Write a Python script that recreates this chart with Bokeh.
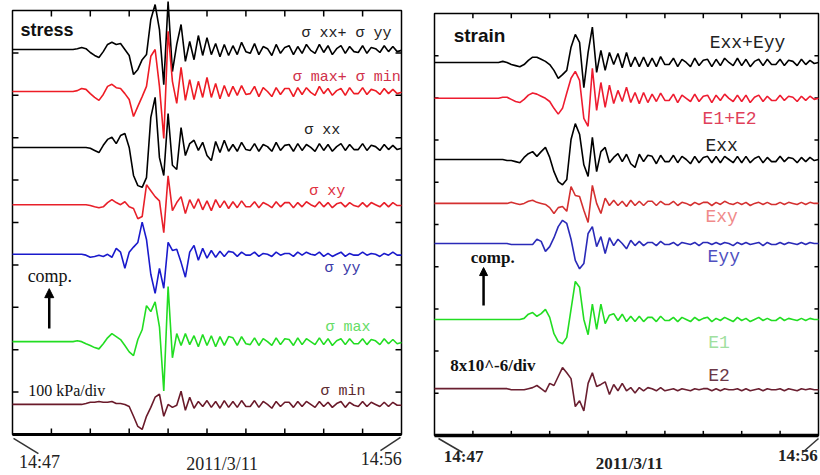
import numpy as np
from bokeh.plotting import figure
from bokeh.layouts import row
from bokeh.models import Label, Arrow, NormalHead, Range1d
from bokeh.embed import file_html
from bokeh.resources import INLINE

# ---------------- data ----------------
# sample times, seconds after 14:47:00 (6 s sampling), 14:47 .. 14:56
t_s = np.arange(0, 541, 6)
tick_s = [54, 108, 162, 216, 270, 324, 378, 432, 486]
tick_div = [1, 2, 3, 4, 5, 6, 7, 8, 9]

stress_kpa_per_div = 100.0
strain_per_div = 8.0  # x10^-6

# stress traces, kPa
sxx_plus_syy = [0,0,0,0,0,0,0,0,0,0,0,0,0,0,0,
    2,5,2,-7,-14,-19,-5,12,17,12, 14,0,-14,-59,-47,-24,-12,71,106,47,
    -83,113,-52,12,59,-28,19,-24,33,-14, 28,-12,14,-17,12,-14,
    9,-12,17,-5,-9,14,-12,7,2,-14, 12,-9,5,9,-12,7,-9,12,-2,-9,
    12,-7,9,-12,2,9,-9,7,-5,-7, 9,-9,5,2,-7,9,-5,7,-5,-2]
smax_plus_smin = [0,0,0,0,0,0,0,0,0,0,0,0,0,0,0,
    2,7,5,-5,-14,-21,-7,12,17,9, 7,-5,-19,-59,-35,-12,12,83,99,12,
    -111,142,24,-28,57,-21,28,-19,24,-14, 33,-14,19,-17,14,-12,
    12,-9,14,-7,-5,12,-12,9,0,-12, 9,-7,7,7,-12,9,-7,9,-2,-9,
    12,-5,7,-9,2,7,-9,9,-5,-5, 9,-7,5,2,-7,7,-5,5,-5,-2]
sxx = [0,0,0,0,0,0,0,0,0,0,0,0,0,0,0,
    0,0,0,-2,-7,-12,5,19,24,9, 28,33,0,-66,-90,-94,-71,71,118,-24,
    -66,80,-42,-52,47,-19,9,17,-7,12, -19,-31,14,-12,17,-9,
    7,-9,12,-5,-7,9,-9,7,2,-9, 12,-7,5,7,-9,9,-7,7,0,-9,
    9,-7,7,-9,2,9,-7,7,-5,-5, 9,-7,5,2,-7,7,-5,5,-5,-2]
sxy = [0,0,0,0,0,0,0,0,0,0,0,0,0,0,0,
    0,0,0,-2,-5, -7,-5,5,12,5, 0,7,-5,-9,-33,-28,47,33,19,9,
    -66,68,-14,5,19,-21,12,-9,14,-12, 9,-14,12,-7,9,-9,
    7,-7,9,-5,-5,7,-7,5,0,-7, 7,-5,5,5,-7,5,-5,7,0,-5,
    7,-5,5,-7,2,5,-5,5,-2,-5, 5,-5,5,0,-5,5,-5,5,-2,-2]
syy = [0,0,0,0,0,0,0,0,0,0,0,0,0,0,0,
    0,0,-2,-7,-5, -2,-5,0,-7,14, 5,-33,5,17,28,76,35,-47,-92,-33,
    -80,28,9,12,-19,-54,5,21,-14,14, -9,9,-7,7,-5,7,
    5,-5,5,-2,-2,5,-5,2,0,-5, 5,-2,2,2,-5,5,-2,5,0,-2,
    5,-5,2,-5,0,5,-5,2,-2,-2, 5,-2,2,0,-5,2,-2,5,-2,-2]
smax = [0,0,0,0,0,0,0,0,0,0,0,0,0,0,0,
    2,0,-5,-9,-14, -17,-5,9,19,12, 5,-9,-24,-33,5,28,85,71,94,35,
    -116,130,-38,19,-9,19,-7,14,-12,17, -9,14,-12,12,-9,12,
    9,-9,12,-5,-7,9,-9,7,0,-9, 9,-7,7,5,-9,9,-7,7,0,-7,
    9,-7,7,-9,2,7,-7,7,-5,-5, 7,-7,5,2,-7,7,-5,5,-5,-2]
smin = [0,0,0,0,0,0,0,0,0,0,0,0,0,0,0,
    0,0,2,5,5, 7,5,5,7,2, 2,0,-5,-28,-52,-59,-28,-7,17,24,
    -28,0,-7,-2,31,-14,17,-9,7,-5, 9,-7,7,-9,9,-7,
    7,-7,9,-5,-5,9,-7,7,0,-9, 7,-5,5,5,-7,7,-5,7,0,-7,
    7,-5,5,-7,2,7,-7,5,-2,-5, 7,-5,5,0,-5,5,-5,5,-2,-2]

# strain traces, x10^-6
exx_plus_eyy = [0,0,0,0,0,0,0,0,0,0,0,0,0,0,0,0,
    0.2,0,-0.4,-0.6,-0.8,-0.4,0.4,1.0,1.0,0.6, 0.2,-0.4,-1.5,-3.0,-2.3,-1.5,2.9,5.3,3.8,-4.8,
    1.9,6.7,-1.9,2.3,-1.5,1.9,-0.4,1.7,-1.0,1.9, -0.8,1.0,-0.8,1.0,-0.8,
    0.8,-0.8,1.1,-0.4,-0.4,0.8,-0.8,0.6,0,-0.8, 0.8,-0.6,0.4,0.6,-0.8,0.6,-0.6,0.8,0,-0.6,
    0.8,-0.6,0.6,-0.8,0.2,0.6,-0.6,0.6,-0.4,-0.4, 0.6,-0.6,0.4,0.2,-0.6,0.6,-0.4,0.4,-0.2,0]
e1_plus_e2 = [0,0,0,0,0,0,0,0,0,0,0,0,0,0,0,0,
    0.2,0.2,-0.2,-0.6,-0.8,-0.2,0.6,1.0,0.8,0.4, 0,-0.6,-1.9,-3.0,-1.9,1.0,3.8,5.1,3.4,-3.8,
    -5.3,5.7,-2.3,3.0,-1.7,2.5,-1.0,1.5,-0.6,2.1, -0.8,1.1,-1.0,1.1,-0.8,
    0.8,-0.6,1.0,-0.4,-0.4,0.8,-0.8,0.6,0,-0.6, 0.8,-0.6,0.4,0.6,-0.8,0.6,-0.4,0.8,0,-0.6,
    0.6,-0.6,0.6,-0.8,0.2,0.6,-0.6,0.4,-0.4,-0.4, 0.6,-0.4,0.4,0.2,-0.6,0.4,-0.4,0.4,-0.2,0]
exx = [0,0,0,0,0,0,0,0,0,0,0,0,0,0,0,0,
    0,-0.2,-0.2,-0.4,-0.6,0.4,1.1,1.5,0.6,1.5, 2.3,0.4,-2.3,-4.2,-4.8,-3.8,3.8,6.8,4.8,-1.0,
    -3.2,4.2,-2.3,1.5,2.3,-0.6,0.4,1.1,-0.4,1.0, -0.8,-1.5,1.0,-0.4,0.8,
    0.6,-0.8,0.8,-0.4,-0.4,0.8,-0.6,0.6,0,-0.8, 0.6,-0.6,0.4,0.6,-0.6,0.6,-0.6,0.6,0,-0.6,
    0.6,-0.6,0.6,-0.6,0.2,0.6,-0.6,0.4,-0.4,-0.4, 0.6,-0.4,0.4,0.2,-0.6,0.4,-0.4,0.4,-0.2,0]
exy = [0,0,0,0,0,0,0,0,0,0,0,0,0,0,0,0,
    0,0,0.2,0,-0.2, 0,0.4,0.6,0.2,0, -0.2,-0.8,-1.9,-0.8,-0.6,-1.5,3.2,1.5,1.3,-1.3,
    -3.6,3.4,0,-1.9,1.0,-0.4,0.6,-0.4,0.4,-0.6, 0.6,-0.4,0.4,-0.4,0.4,
    0.4,-0.4,0.4,-0.2,-0.2,0.4,-0.4,0.2,0,-0.4, 0.2,-0.2,0.2,0.2,-0.4,0.2,-0.2,0.4,0,-0.2,
    0.2,-0.2,0.2,-0.4,0,0.2,-0.2,0.2,-0.2,-0.2, 0.2,-0.2,0.2,0,-0.2,0.2,-0.2,0.2,0,0]
eyy = [0,0,0,0,0,0,0,0,0,0,0,0,0,0,0,0,
    0,0,-0.2,-0.2,-0.2,-0.2,-0.2,-0.2,0.8,0.4, -1.5,-0.6,1.1,3.2,4.4,3.8,0.8,-3.2,-4.8,-3.8,
    1.9,3.2,-0.6,1.3,-1.9,1.1,-0.4,0.8,0,-1.0, 0.6,-0.4,0.4,-0.4,0.2,
    0.2,-0.4,0.4,-0.2,-0.2,0.2,-0.4,0.2,0,-0.2, 0.2,-0.4,0.2,0.2,-0.2,0.2,-0.2,0.2,0,-0.4,
    0.2,-0.2,0.2,-0.2,0,0.2,-0.4,0.2,-0.2,-0.2, 0.2,-0.2,0.2,0,-0.2,0.2,-0.2,0.2,0,0]
e1 = [0,0,0,0,0,0,0,0,0,0,0,0,0,0,0,0,
    0,0,0,0,0, 0.2,1.0,1.3,0.6,1.1, 1.9,0.4,-2.7,-4.2,-4.6,-3.4,1.9,7.2,6.1,0,
    -2.9,2.9,-1.9,2.9,-0.8,0.8,1.1,-0.2,1.0,-0.4, 0.6,-0.4,0.6,-0.4,0.4,
    0.4,-0.4,0.6,-0.2,-0.2,0.4,-0.4,0.4,0,-0.4, 0.4,-0.2,0.2,0.4,-0.4,0.2,-0.2,0.4,0,-0.4,
    0.4,-0.2,0.2,-0.4,0,0.4,-0.2,0.2,-0.2,-0.2, 0.4,-0.2,0.2,0,-0.2,0.2,-0.2,0.2,0,0]
e2 = [0,0,0,0,0,0,0,0,0,0,0,0,0,0,0,0,
    0,0,-0.2,-0.2,-0.2, -0.2,0,0.2,0.6,0, -0.6,1.0,0.6,2.3,4.0,3.0,1.9,-3.4,-2.3,-4.2,
    1.0,3.0,0.4,0.8,1.3,-1.1,0.8,-0.4,1.0,-0.4, 0.2,-0.8,0.2,-0.4,0.2,
    0,-0.4,0.2,-0.4,-0.2,0,-0.4,0,-0.2,-0.4, 0,-0.2,0,0,-0.4,0,-0.4,0,-0.2,-0.2,
    0,-0.4,0,-0.4,-0.2,0,-0.4,0,-0.2,-0.2, 0,-0.4,0,-0.2,-0.4,0,-0.2,0,-0.2,-0.2]

stress_traces = [sxx_plus_syy, smax_plus_smin, sxx, sxy, syy, smax, smin]
stress_labels = ["σ xx+ σ yy", "σ max+ σ min", "σ xx", "σ xy", "σ yy", "σ max", "σ min"]
stress_base_div = [9.08, 8.09, 6.77, 5.42, 4.25, 2.19, 0.71]

strain_traces = [exx_plus_eyy, e1_plus_e2, exx, exy, eyy, e1, e2]
strain_labels = ["Exx+Eyy", "E1+E2", "Exx", "Exy", "Eyy", "E1", "E2"]
strain_base_div = [8.84, 7.99, 6.54, 5.50, 4.55, 2.75, 1.11]

# ---------------- styles ----------------
stress_colors = ["#000000", "#ee1c25", "#000000", "#e8202a", "#1a1acc", "#22dd22", "#6a1a2a"]
stress_label_colors = ["#222222", "#d0304a", "#222222", "#e03040", "#3a3aa8", "#66dd66", "#5c2a30"]
stress_label_pos = [(526, 9.46), (539, 8.42), (455, 7.17), (462, 5.73), (483, 3.92), (497, 2.52), (490, 1.01)]

strain_colors = ["#000000", "#ee1c30", "#000000", "#d43030", "#2a2ab8", "#22dd22", "#6a1f30"]
strain_label_colors = ["#222222", "#e0405a", "#222222", "#f08a8a", "#5050c0", "#a0e0a0", "#6b3848"]
strain_label_pos = [(387, 9.29), (377, 7.51), (381, 6.85), (381, 5.17), (384, 4.22), (385, 2.2), (385, 1.40)]

SERIF = "Liberation Serif"
MONO = "Liberation Mono"
SANS = "Liberation Sans"
FIG_H = 474


def make_panel(width, x_lo, x_hi, y_lo, y_hi, tick_x_len, tick_y_len, edge_w, bottom_w):
    p = figure(width=width, height=FIG_H, title=None,
               x_range=Range1d(x_lo, x_hi), y_range=Range1d(y_lo, y_hi),
               x_axis_type=None, y_axis_type=None,
               toolbar_location=None, output_backend="svg", min_border=0)
    p.outline_line_color = None
    p.background_fill_color = "white"
    p.border_fill_color = "white"
    p.grid.visible = False
    # panel box
    p.quad(left=[0], right=[540], bottom=[0], top=[10], fill_color=None,
           line_color="black", line_width=edge_w)
    p.line([0, 540], [0, 0], line_color="black", line_width=bottom_w)
    # inward ticks on all four sides
    n = len(tick_s)
    p.segment(x0=tick_s, y0=[0] * n, x1=tick_s, y1=[tick_y_len] * n, line_color="black", line_width=1.5)
    p.segment(x0=tick_s, y0=[10] * n, x1=tick_s, y1=[10 - tick_y_len] * n, line_color="black", line_width=1.5)
    m = len(tick_div)
    p.segment(x0=[0] * m, y0=tick_div, x1=[tick_x_len] * m, y1=tick_div, line_color="black", line_width=1.5)
    p.segment(x0=[540] * m, y0=tick_div, x1=[540 - tick_x_len] * m, y1=tick_div, line_color="black", line_width=1.5)
    return p


def lab(p, x, y, text, size, color="#222222", font=SERIF, align="left", style="normal"):
    p.add_layout(Label(x=x, y=y, text=text, text_font=font, text_font_size=size,
                       text_color=color, text_align=align, text_baseline="middle",
                       text_font_style=style))


def seg(p, x0, y0, x1, y1, w=1.5):
    p.add_layout(Arrow(x_start=x0, y_start=y0, x_end=x1, y_end=y1, end=None,
                       line_color="#333333", line_width=w))


# ---------------- left: stress ----------------
pl = make_panel(428, -16.658, 577.48, -0.943, 10.236, 8.3, 0.14, 1.5, 3)
for vals, base, col in zip(stress_traces, stress_base_div, stress_colors):
    pl.line(t_s, base + np.array(vals) / stress_kpa_per_div, line_color=col, line_width=1.6)
lab(pl, 11, 9.53, "stress", "18px", "#111111", SANS, style="bold")
for txt, (x, y), c in zip(stress_labels, stress_label_pos, stress_label_colors):
    lab(pl, x, y, txt, "15px", c, MONO, align="right")
lab(pl, 21, 3.73, "comp.", "18px", "#111111")
pl.add_layout(Arrow(x_start=51, y_start=2.5, x_end=51, y_end=3.44,
                    end=NormalHead(size=9, fill_color="black", line_color="black"),
                    line_color="black", line_width=2.5))
lab(pl, 22, 1.04, "100 kPa/div", "16px", "#111111")
lab(pl, 37.5, -0.637, "14:47", "18px", "#222222", align="center")
lab(pl, 291, -0.70, "2011/3/11", "18px", "#222222", align="center")
lab(pl, 512, -0.566, "14:56", "18px", "#222222", align="center")
seg(pl, 1.4, -0.09, 36, -0.45)
seg(pl, 538.6, -0.07, 510.8, -0.38)

# ---------------- right: strain ----------------
pr = make_panel(392, -8.4375, 542.8125, -0.924, 10.308, 5.7, 0.11, 1.5, 3.5)
for vals, base, col in zip(strain_traces, strain_base_div, strain_colors):
    pr.line(t_s, base + np.array(vals) / strain_per_div, line_color=col, line_width=1.6)
lab(pr, 27, 9.48, "strain", "19px", "#111111", SANS, style="bold")
for txt, (x, y), c in zip(strain_labels, strain_label_pos, strain_label_colors):
    lab(pr, x, y, txt, "18px", c, MONO)
lab(pr, 51, 4.22, "comp.", "17px", "#111111", style="bold")
pr.add_layout(Arrow(x_start=69, y_start=3.08, x_end=69, y_end=3.98,
                    end=NormalHead(size=8, fill_color="black", line_color="black"),
                    line_color="black", line_width=2.5))
lab(pr, 22, 1.66, "8x10^-6/div", "17px", "#111111", style="bold")
lab(pr, 41, -0.50, "14:47", "17px", "#222222", align="center", style="bold")
lab(pr, 274, -0.663, "2011/3/11", "17px", "#222222", align="center", style="bold")
lab(pr, 511, -0.47, "14:56", "17px", "#222222", align="center", style="bold")
seg(pr, 5.6, -0.071, 39.4, -0.403)
seg(pr, 540, -0.071, 517.5, -0.403)

layout = row(pl, pr)
open("out.html", "w").write(file_html(layout, INLINE))
